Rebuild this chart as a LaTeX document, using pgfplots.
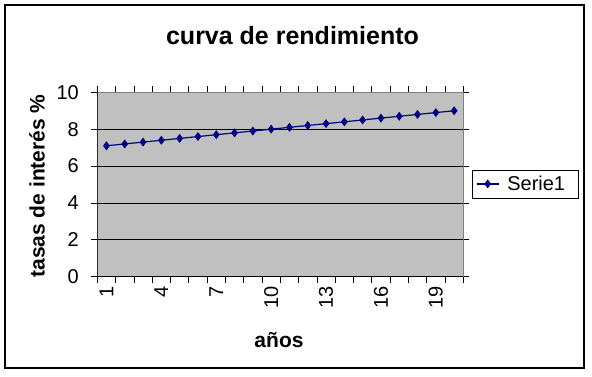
\documentclass[border=0pt]{standalone}
\usepackage{pgfplots}
\pgfplotsset{compat=1.18}
\usepackage{fontspec}
\setmainfont{Liberation Sans}
\definecolor{plotgray}{RGB}{192,192,192}
\definecolor{bordergray}{RGB}{128,128,128}
\definecolor{navy}{RGB}{0,0,128}

\begin{document}
\begin{tikzpicture}
\useasboundingbox (0pt,0pt) rectangle (592pt,376pt);
\draw[black, line width=1.2pt] (5pt,8pt) rectangle (584pt,371pt);
\node[font=\fontsize{25}{29}\selectfont\bfseries] at (292.5pt,340pt) {curva de rendimiento};
\node[font=\fontsize{21}{25}\selectfont\bfseries] at (279pt,36pt) {años};
\node[font=\fontsize{21}{25}\selectfont\bfseries, rotate=90] at (37pt,190pt) {tasas de interés \%};
\begin{axis}[
  at={(97.3pt,99.3pt)}, anchor=south west,
  width=366pt, height=184.4pt, scale only axis,
  xmin=0.5, xmax=20.5, ymin=0, ymax=10,
  axis background/.style={fill=plotgray},
  axis line style={bordergray, line width=0.8pt},
  xtick={1,4,...,19},
  minor xtick={0.5,1.5,...,20.5},
  ytick={0,2,...,10},
  ymajorgrids,
  grid style={black, line width=0.8pt},
  tick align=outside,
  major tick length=6pt, minor tick length=6pt,
  tick style={black, line width=0.8pt},
  every major x tick/.append style={draw=none},
  /pgf/number format/assume math mode=true,
  xticklabel style={rotate=90, anchor=east, font=\fontsize{20}{23}\selectfont},
  yticklabel style={anchor=east, xshift=-9pt, font=\fontsize{20}{23}\selectfont},
  legend style={at={(1.023,0.503)}, anchor=west, draw=black, line width=0.8pt, fill=white,
    font=\fontsize{20}{23}\selectfont, inner xsep=4pt, inner ysep=4pt},
  legend cell align=left,
  legend image code/.code={\draw[mark repeat=2, mark phase=2, #1] plot coordinates {(0pt,0pt) (11pt,0pt) (22pt,0pt)}; \path (28pt,0pt);},
]
\addplot[navy, line width=1.2pt, mark=diamond*, mark size=3.5pt, mark options={fill=navy, solid}]
  coordinates {
  (1,7.1) (2,7.2) (3,7.3) (4,7.4) (5,7.5) (6,7.6) (7,7.7) (8,7.8) (9,7.9) (10,8.0)
  (11,8.1) (12,8.2) (13,8.3) (14,8.4) (15,8.5) (16,8.6) (17,8.7) (18,8.8) (19,8.9) (20,9.0)
  };
\addlegendentry{Serie1\kern7pt\null}
\draw[bordergray, line width=0.8pt] (rel axis cs:0,1) -- (rel axis cs:1,1) -- (rel axis cs:1,0);
\draw[black, line width=0.8pt] (rel axis cs:0,1) -- (rel axis cs:0,0) -- (rel axis cs:1,0);
\end{axis}
\end{tikzpicture}
\end{document}
